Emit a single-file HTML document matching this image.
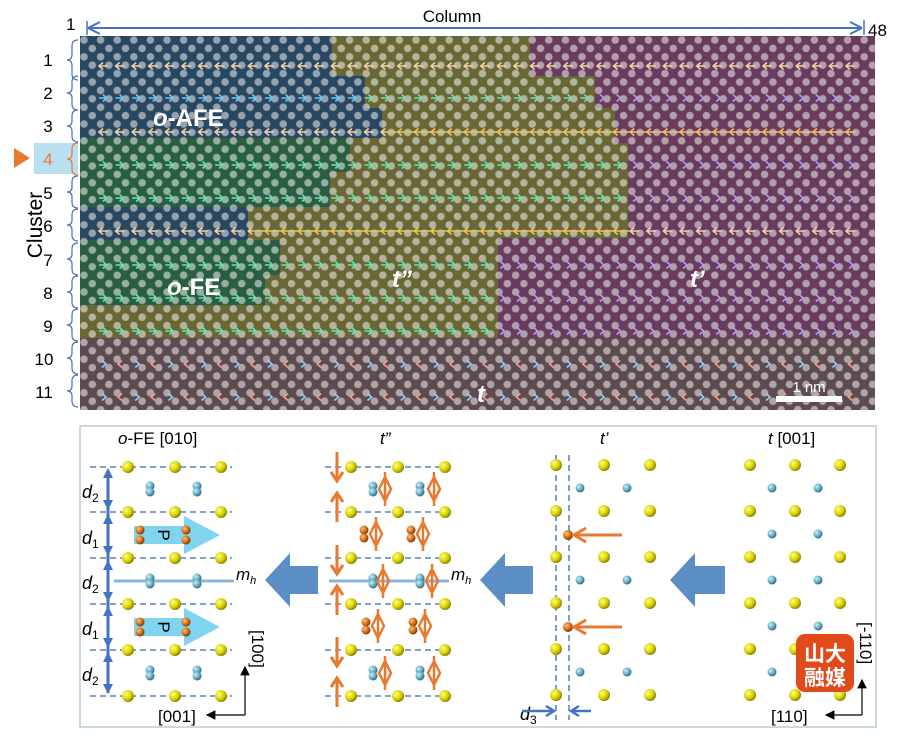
<!DOCTYPE html>
<html><head><meta charset="utf-8"><style>
html,body{margin:0;padding:0;background:#fff;}
svg{display:block;font-family:"Liberation Sans",Arial,sans-serif;}
</style></head><body>
<svg width="900" height="739" viewBox="0 0 900 739" xmlns="http://www.w3.org/2000/svg">
<defs>
<pattern id="dots" x="80" y="36" width="16.6" height="16.8" patternUnits="userSpaceOnUse">
<rect width="16.6" height="16.8" fill="rgba(0,0,0,0.33)"/>
<circle cx="4" cy="4" r="3.8" fill="rgba(255,255,255,0.5)"/>
<circle cx="12.3" cy="12.4" r="3.8" fill="rgba(255,255,255,0.5)"/>
</pattern>
<pattern id="aL" x="96" y="0" width="16.6" height="11" patternUnits="userSpaceOnUse">
<path d="M3,5 h9 M7,1.5 L3,5 L7,8.5" stroke="#f0d0a8" stroke-width="1.6" fill="none"/>
</pattern>
<pattern id="aLy" x="96" y="0" width="16.6" height="11" patternUnits="userSpaceOnUse">
<path d="M0,5 h16.6 M7,1.5 L3,5 L7,8.5" stroke="#f0c060" stroke-width="1.6" fill="none"/>
</pattern>
<pattern id="cR" x="96" y="0" width="16.6" height="11" patternUnits="userSpaceOnUse">
<path d="M3,5 h7 M7,1.5 L10.5,5 L7,8.5" stroke="#70c8f0" stroke-width="1.6" fill="none"/>
</pattern>
<pattern id="cG" x="96" y="0" width="16.6" height="11" patternUnits="userSpaceOnUse">
<path d="M3,5 h7 M7,1.5 L10.5,5 L7,8.5" stroke="#70e0b0" stroke-width="1.6" fill="none"/>
</pattern>
<pattern id="cP" x="96" y="0" width="16.6" height="11" patternUnits="userSpaceOnUse">
<path d="M6,1.5 L10,5 L6,8.5" stroke="#b0a0f0" stroke-width="1.6" fill="none"/>
</pattern>
<pattern id="cT" x="96" y="0" width="33.2" height="11" patternUnits="userSpaceOnUse">
<path d="M6,1.5 L10,5 L6,8.5" stroke="#90d0f0" stroke-width="1.6" fill="none"/>
<path d="M26,1.5 L22,5 L26,8.5" stroke="#f0a090" stroke-width="1.6" fill="none"/>
</pattern>
<radialGradient id="gy" cx="0.35" cy="0.35" r="0.7"><stop offset="0" stop-color="#ffff80"/><stop offset="0.6" stop-color="#d8d000"/><stop offset="1" stop-color="#807800"/></radialGradient>
<radialGradient id="gb" cx="0.35" cy="0.35" r="0.7"><stop offset="0" stop-color="#cdeefa"/><stop offset="0.6" stop-color="#60a8c0"/><stop offset="1" stop-color="#2a6078"/></radialGradient>
<radialGradient id="go" cx="0.35" cy="0.35" r="0.7"><stop offset="0" stop-color="#ffc080"/><stop offset="0.6" stop-color="#d06a10"/><stop offset="1" stop-color="#703000"/></radialGradient>
<marker id="ah" markerWidth="8" markerHeight="8" refX="7" refY="4" orient="auto"><path d="M0,0 L8,4 L0,8 z" fill="#000"/></marker>
</defs>

<text x="66" y="30" font-size="17">1</text>
<line x1="87" y1="21" x2="87" y2="35" stroke="#4472c4" stroke-width="1.5"/>
<line x1="90" y1="28" x2="860" y2="28" stroke="#4472c4" stroke-width="2"/>
<path d="M88,28 L100,22 M88,28 L100,34" stroke="#4472c4" stroke-width="2" fill="none"/>
<path d="M862,28 L850,22 M862,28 L850,34" stroke="#4472c4" stroke-width="2" fill="none"/>
<line x1="864" y1="20" x2="864" y2="35" stroke="#4472c4" stroke-width="1.5"/>
<text x="868" y="36" font-size="17">48</text>
<text x="452" y="22" font-size="17" text-anchor="middle">Column</text>

<g>
<rect x="80" y="36" width="795" height="374" fill="#9a5a8a"/>
<rect x="80" y="36" width="450" height="40" fill="#9c9a50"/>
<rect x="80" y="76" width="515" height="32" fill="#9c9a50"/>
<rect x="80" y="108" width="535" height="35" fill="#9c9a50"/>
<rect x="80" y="143" width="548" height="95" fill="#9c9a50"/>
<rect x="80" y="238" width="418" height="100" fill="#9c9a50"/>
<rect x="80" y="36" width="252" height="40" fill="#3f6a90"/>
<rect x="80" y="76" width="285" height="32" fill="#3f6a90"/>
<rect x="80" y="108" width="302" height="30" fill="#3f6a90"/>
<rect x="80" y="207" width="168" height="33" fill="#3f6a90"/>
<rect x="80" y="138" width="270" height="34" fill="#3f8c62"/>
<rect x="80" y="172" width="250" height="35" fill="#3f8c62"/>
<rect x="80" y="240" width="200" height="35" fill="#3f8c62"/>
<rect x="80" y="275" width="185" height="30" fill="#3f8c62"/>
<rect x="80" y="338" width="795" height="72" fill="#8a7078"/>
<rect x="80" y="36" width="795" height="374" fill="url(#dots)"/>
</g>
<g>
<g transform="translate(0,61)"><rect x="96" y="0" width="760" height="11" fill="url(#aL)"/></g>
<g transform="translate(0,93)"><rect x="96" y="0" width="270" height="11" fill="url(#cR)"/><rect x="366" y="0" width="230" height="11" fill="url(#cG)"/><rect x="596" y="0" width="260" height="11" fill="url(#cP)"/></g>
<g transform="translate(0,127)"><rect x="96" y="0" width="290" height="11" fill="url(#aL)"/><rect x="386" y="0" width="470" height="11" fill="url(#aLy)"/></g>
<g transform="translate(0,160)"><rect x="96" y="0" width="530" height="11" fill="url(#cG)"/><rect x="626" y="0" width="230" height="11" fill="url(#cP)"/></g>
<g transform="translate(0,193)"><rect x="96" y="0" width="530" height="11" fill="url(#cG)"/><rect x="626" y="0" width="230" height="11" fill="url(#cP)"/></g>
<g transform="translate(0,226)"><rect x="96" y="0" width="155" height="11" fill="url(#aL)"/><rect x="251" y="0" width="380" height="11" fill="url(#aLy)"/><rect x="631" y="0" width="225" height="11" fill="url(#aL)"/></g>
<g transform="translate(0,260)"><rect x="96" y="0" width="400" height="11" fill="url(#cG)"/><rect x="496" y="0" width="360" height="11" fill="url(#cP)"/></g>
<g transform="translate(0,293)"><rect x="96" y="0" width="400" height="11" fill="url(#cG)"/><rect x="496" y="0" width="360" height="11" fill="url(#cP)"/></g>
<g transform="translate(0,326)"><rect x="96" y="0" width="400" height="11" fill="url(#cG)"/><rect x="496" y="0" width="360" height="11" fill="url(#cP)"/></g>
<g transform="translate(0,359)"><rect x="96" y="0" width="760" height="11" fill="url(#cT)"/></g>
<g transform="translate(0,392)"><rect x="96" y="0" width="760" height="11" fill="url(#cT)"/></g>
</g>
<g fill="#fff" font-weight="bold" font-size="24">
<text x="153" y="126"><tspan font-style="italic">o</tspan>-AFE</text>
<text x="167" y="295"><tspan font-style="italic">o</tspan>-FE</text>
<text x="392" y="287" font-style="italic">t”</text>
<text x="690" y="287" font-style="italic">t’</text>
<text x="477" y="402" font-style="italic">t</text>
</g>
<rect x="776" y="396" width="66" height="6" fill="#fff"/>
<text x="809" y="392" font-size="15" fill="#fff" text-anchor="middle">1 nm</text>

<text x="35" y="225" font-size="21" transform="rotate(-90 35 225)" text-anchor="middle" dy="7">Cluster</text>
<rect x="34" y="143" width="44" height="31" fill="#b8e0f0"/>
<path d="M14,148 L30,158 L14,168 z" fill="#e87a30"/>
<g font-size="17" text-anchor="middle">
<text x="48" y="66">1</text><text x="48" y="99">2</text><text x="48" y="132">3</text>
<text x="48" y="165" fill="#e87a30">4</text><text x="48" y="199">5</text><text x="48" y="232">6</text>
<text x="48" y="266">7</text><text x="48" y="299">8</text><text x="48" y="332">9</text>
<text x="44" y="365">10</text><text x="44" y="398">11</text>
</g>
<g fill="none" stroke="#4472c4" stroke-width="1.2">
<path d="M78,40 q-6,0 -6,6 v8 q0,6 -5,6 q5,0 5,6 v8 q0,6 6,6"/>
<path d="M78,76 q-6,0 -6,6 v6 q0,5 -5,5 q5,0 5,5 v6 q0,6 6,6"/>
<path d="M78,110 q-6,0 -6,6 v5 q0,5 -5,5 q5,0 5,5 v5 q0,6 6,6"/>
<path d="M78,143 q-6,0 -6,6 v5 q0,5 -5,5 q5,0 5,5 v5 q0,6 6,6" stroke="#e87a30"/>
<path d="M78,176 q-6,0 -6,6 v5 q0,5 -5,5 q5,0 5,5 v5 q0,6 6,6"/>
<path d="M78,209 q-6,0 -6,6 v5 q0,5 -5,5 q5,0 5,5 v5 q0,6 6,6"/>
<path d="M78,243 q-6,0 -6,6 v5 q0,5 -5,5 q5,0 5,5 v5 q0,6 6,6"/>
<path d="M78,276 q-6,0 -6,6 v5 q0,5 -5,5 q5,0 5,5 v5 q0,6 6,6"/>
<path d="M78,309 q-6,0 -6,6 v5 q0,5 -5,5 q5,0 5,5 v5 q0,6 6,6"/>
<path d="M78,342 q-6,0 -6,6 v5 q0,5 -5,5 q5,0 5,5 v5 q0,6 6,6"/>
<path d="M78,375 q-6,0 -6,6 v5 q0,5 -5,5 q5,0 5,5 v5 q0,6 6,6"/>
</g>

<rect x="80" y="426" width="796" height="301" fill="#fff" stroke="#b8ccd8" stroke-width="1.5"/>
<g font-size="17">
<text x="118" y="444"><tspan font-style="italic">o</tspan>-FE  [010]</text>
<text x="380" y="444" font-style="italic">t”</text>
<text x="600" y="444" font-style="italic">t’</text>
<text x="768" y="444"><tspan font-style="italic">t</tspan>  [001]</text>
</g>
<g stroke="#3a6ab0" stroke-width="1.3" stroke-dasharray="6,4">
<line x1="90" y1="467" x2="232" y2="467"/><line x1="90" y1="512" x2="232" y2="512"/><line x1="90" y1="558" x2="232" y2="558"/><line x1="90" y1="604" x2="232" y2="604"/><line x1="90" y1="650" x2="232" y2="650"/><line x1="90" y1="696" x2="232" y2="696"/>
<line x1="325" y1="467" x2="452" y2="467"/><line x1="325" y1="512" x2="452" y2="512"/><line x1="325" y1="558" x2="452" y2="558"/><line x1="325" y1="604" x2="452" y2="604"/><line x1="325" y1="650" x2="452" y2="650"/><line x1="325" y1="696" x2="452" y2="696"/>
<line x1="556" y1="455" x2="556" y2="720"/><line x1="569" y1="455" x2="569" y2="720"/>
</g>
<line x1="114" y1="581" x2="234" y2="581" stroke="#8cb4d8" stroke-width="3"/>
<line x1="329" y1="581" x2="449" y2="581" stroke="#8cb4d8" stroke-width="3"/>
<text x="236" y="580" font-size="17" font-style="italic">m<tspan font-size="11" dy="4">h</tspan></text>
<text x="451" y="580" font-size="17" font-style="italic">m<tspan font-size="11" dy="4">h</tspan></text>
<line x1="108" y1="470" x2="108" y2="693" stroke="#4472c4" stroke-width="3"/>
<g fill="#4472c4">
<path d="M108,468 l-5,10 h10z M108,510 l-5,-10 h10z M108,514 l-5,10 h10z M108,556 l-5,-10 h10z M108,560 l-5,10 h10z M108,602 l-5,-10 h10z M108,606 l-5,10 h10z M108,648 l-5,-10 h10z M108,652 l-5,10 h10z M108,694 l-5,-10 h10z"/>
</g>
<g font-size="18" font-style="italic">
<text x="82" y="498">d<tspan font-size="12" dy="4" font-style="normal">2</tspan></text>
<text x="82" y="544">d<tspan font-size="12" dy="4" font-style="normal">1</tspan></text>
<text x="82" y="589">d<tspan font-size="12" dy="4" font-style="normal">2</tspan></text>
<text x="82" y="635">d<tspan font-size="12" dy="4" font-style="normal">1</tspan></text>
<text x="82" y="681">d<tspan font-size="12" dy="4" font-style="normal">2</tspan></text>
<text x="520" y="720">d<tspan font-size="12" dy="4" font-style="normal">3</tspan></text>
</g>
<path d="M134,526 h50 v-10 l36,19 l-36,19 v-10 h-50z" fill="#80d4f0"/>
<path d="M134,618 h50 v-10 l36,19 l-36,19 v-10 h-50z" fill="#80d4f0"/>
<text x="163" y="540" font-size="17" transform="rotate(90 163 535)" text-anchor="middle">P</text>
<text x="163" y="632" font-size="17" transform="rotate(90 163 627)" text-anchor="middle">P</text>
<g fill="#5a8ec4">
<path d="M265,580 l25,-27 v13 h28 v28 h-28 v13z"/>
<path d="M480,580 l25,-27 v13 h28 v28 h-28 v13z"/>
<path d="M670,580 l25,-27 v13 h30 v28 h-30 v13z"/>
</g>
<g fill="url(#gy)">
<circle cx="128" cy="467" r="6"/><circle cx="175" cy="467" r="6"/><circle cx="221" cy="467" r="6"/>
<circle cx="128" cy="512" r="6"/><circle cx="175" cy="512" r="6"/><circle cx="221" cy="512" r="6"/>
<circle cx="128" cy="558" r="6"/><circle cx="175" cy="558" r="6"/><circle cx="221" cy="558" r="6"/>
<circle cx="128" cy="604" r="6"/><circle cx="175" cy="604" r="6"/><circle cx="221" cy="604" r="6"/>
<circle cx="128" cy="650" r="6"/><circle cx="175" cy="650" r="6"/><circle cx="221" cy="650" r="6"/>
<circle cx="128" cy="696" r="6"/><circle cx="175" cy="696" r="6"/><circle cx="221" cy="696" r="6"/>
<circle cx="351" cy="467" r="6"/><circle cx="398" cy="467" r="6"/><circle cx="445" cy="467" r="6"/>
<circle cx="351" cy="512" r="6"/><circle cx="398" cy="512" r="6"/><circle cx="445" cy="512" r="6"/>
<circle cx="351" cy="558" r="6"/><circle cx="398" cy="558" r="6"/><circle cx="445" cy="558" r="6"/>
<circle cx="351" cy="604" r="6"/><circle cx="398" cy="604" r="6"/><circle cx="445" cy="604" r="6"/>
<circle cx="351" cy="650" r="6"/><circle cx="398" cy="650" r="6"/><circle cx="445" cy="650" r="6"/>
<circle cx="351" cy="696" r="6"/><circle cx="398" cy="696" r="6"/><circle cx="445" cy="696" r="6"/>
<circle cx="556" cy="465" r="6"/><circle cx="604" cy="465" r="6"/><circle cx="650" cy="465" r="6"/>
<circle cx="556" cy="511" r="6"/><circle cx="604" cy="511" r="6"/><circle cx="650" cy="511" r="6"/>
<circle cx="556" cy="557" r="6"/><circle cx="604" cy="557" r="6"/><circle cx="650" cy="557" r="6"/>
<circle cx="556" cy="603" r="6"/><circle cx="604" cy="603" r="6"/><circle cx="650" cy="603" r="6"/>
<circle cx="556" cy="649" r="6"/><circle cx="604" cy="649" r="6"/><circle cx="650" cy="649" r="6"/>
<circle cx="556" cy="695" r="6"/><circle cx="604" cy="695" r="6"/><circle cx="650" cy="695" r="6"/>
<circle cx="750" cy="465" r="6"/><circle cx="795" cy="465" r="6"/><circle cx="840" cy="465" r="6"/>
<circle cx="750" cy="511" r="6"/><circle cx="795" cy="511" r="6"/><circle cx="840" cy="511" r="6"/>
<circle cx="750" cy="557" r="6"/><circle cx="795" cy="557" r="6"/><circle cx="840" cy="557" r="6"/>
<circle cx="750" cy="603" r="6"/><circle cx="795" cy="603" r="6"/><circle cx="840" cy="603" r="6"/>
<circle cx="750" cy="649" r="6"/><circle cx="795" cy="649" r="6"/><circle cx="840" cy="649" r="6"/>
<circle cx="750" cy="695" r="6"/><circle cx="795" cy="695" r="6"/><circle cx="840" cy="695" r="6"/>
</g>
<g fill="url(#gb)">
<circle cx="150" cy="486" r="4.5"/><circle cx="150" cy="492" r="4.5"/><circle cx="197" cy="486" r="4.5"/><circle cx="197" cy="492" r="4.5"/>
<circle cx="150" cy="578" r="4.5"/><circle cx="150" cy="584" r="4.5"/><circle cx="197" cy="578" r="4.5"/><circle cx="197" cy="584" r="4.5"/>
<circle cx="150" cy="670" r="4.5"/><circle cx="150" cy="676" r="4.5"/><circle cx="197" cy="670" r="4.5"/><circle cx="197" cy="676" r="4.5"/>
<circle cx="373" cy="486" r="4.5"/><circle cx="373" cy="492" r="4.5"/><circle cx="420" cy="486" r="4.5"/><circle cx="420" cy="492" r="4.5"/>
<circle cx="373" cy="578" r="4.5"/><circle cx="373" cy="584" r="4.5"/><circle cx="420" cy="578" r="4.5"/><circle cx="420" cy="584" r="4.5"/>
<circle cx="373" cy="670" r="4.5"/><circle cx="373" cy="676" r="4.5"/><circle cx="420" cy="670" r="4.5"/><circle cx="420" cy="676" r="4.5"/>
<circle cx="580" cy="488" r="4.5"/><circle cx="627" cy="488" r="4.5"/>
<circle cx="580" cy="580" r="4.5"/><circle cx="627" cy="580" r="4.5"/>
<circle cx="580" cy="672" r="4.5"/><circle cx="627" cy="672" r="4.5"/>
<circle cx="772" cy="488" r="4.5"/><circle cx="818" cy="488" r="4.5"/>
<circle cx="772" cy="534" r="4.5"/><circle cx="818" cy="534" r="4.5"/>
<circle cx="772" cy="580" r="4.5"/><circle cx="818" cy="580" r="4.5"/>
<circle cx="772" cy="626" r="4.5"/><circle cx="818" cy="626" r="4.5"/>
<circle cx="772" cy="672" r="4.5"/><circle cx="818" cy="672" r="4.5"/>
</g>
<g fill="url(#go)">
<circle cx="140" cy="530" r="4.5"/><circle cx="140" cy="540" r="4.5"/><circle cx="186" cy="530" r="4.5"/><circle cx="186" cy="540" r="4.5"/>
<circle cx="140" cy="622" r="4.5"/><circle cx="140" cy="632" r="4.5"/><circle cx="186" cy="622" r="4.5"/><circle cx="186" cy="632" r="4.5"/>
<circle cx="364" cy="530" r="4.5"/><circle cx="364" cy="538" r="4.5"/><circle cx="411" cy="530" r="4.5"/><circle cx="411" cy="538" r="4.5"/>
<circle cx="366" cy="622" r="4.5"/><circle cx="366" cy="630" r="4.5"/><circle cx="413" cy="622" r="4.5"/><circle cx="413" cy="630" r="4.5"/>
<circle cx="568" cy="535" r="5"/><circle cx="568" cy="627" r="5"/>
</g>
<g stroke="#e87a30" stroke-width="3" fill="none">
<line x1="574" y1="535" x2="622" y2="535"/><path d="M586,528 L574,535 L586,542"/>
<line x1="574" y1="627" x2="622" y2="627"/><path d="M586,620 L574,627 L586,634"/>
</g>
<g stroke="#e87a30" stroke-width="3" fill="none">
<path d="M337,452 v28 M331,472 l6,9 l6,-9"/>
<path d="M337,522 v-28 M331,502 l6,-9 l6,9"/>
<path d="M337,545 v28 M331,565 l6,9 l6,-9"/>
<path d="M337,615 v-28 M331,595 l6,-9 l6,9"/>
<path d="M337,637 v28 M331,657 l6,9 l6,-9"/>
<path d="M337,707 v-28 M331,687 l6,-9 l6,9"/>
</g>
<g stroke="#e87a30" stroke-width="2.5" fill="none">
<path d="M385,477 l-6,12 l6,12 l6,-12z M385,472 v34"/><path d="M434,477 l-6,12 l6,12 l6,-12z M434,472 v34"/>
<path d="M376,522 l-6,12 l6,12 l6,-12z M376,517 v34"/><path d="M423,522 l-6,12 l6,12 l6,-12z M423,517 v34"/>
<path d="M383,569 l-6,12 l6,12 l6,-12z M383,564 v34"/><path d="M432,569 l-6,12 l6,12 l6,-12z M432,564 v34"/>
<path d="M378,614 l-6,12 l6,12 l6,-12z M378,609 v34"/><path d="M425,614 l-6,12 l6,12 l6,-12z M425,609 v34"/>
<path d="M385,661 l-6,12 l6,12 l6,-12z M385,656 v34"/><path d="M434,661 l-6,12 l6,12 l6,-12z M434,656 v34"/>
</g>
<g stroke="#4472c4" stroke-width="2.5" fill="none">
<line x1="522" y1="711" x2="553" y2="711"/><path d="M546,706 l8,5 l-8,5"/>
<line x1="572" y1="711" x2="591" y2="711"/><path d="M579,706 l-8,5 l8,5"/>
</g>
<g stroke="#000" stroke-width="1.2" fill="none">
<path d="M245,715 V667" marker-end="url(#ah)"/><path d="M245,715 H207" marker-end="url(#ah)"/>
<path d="M862,715 V680" marker-end="url(#ah)"/><path d="M862,715 H826" marker-end="url(#ah)"/>
</g>
<text x="158" y="722" font-size="17">[001]</text>
<text x="252" y="630" font-size="17" transform="rotate(90 252 630)">[100]</text>
<text x="771" y="722" font-size="17">[110]</text>
<text x="860" y="622" font-size="17" transform="rotate(90 860 622)">[-110]</text>
<rect x="796" y="634" width="58" height="58" rx="9" fill="#e24a1a"/>
<text x="825" y="661" font-size="21" font-weight="bold" fill="#fff" text-anchor="middle" font-family="'Noto Sans CJK SC',sans-serif">山大</text>
<text x="825" y="685" font-size="21" font-weight="bold" fill="#fff" text-anchor="middle" font-family="'Noto Sans CJK SC',sans-serif">融媒</text>
</svg>
</body></html>
